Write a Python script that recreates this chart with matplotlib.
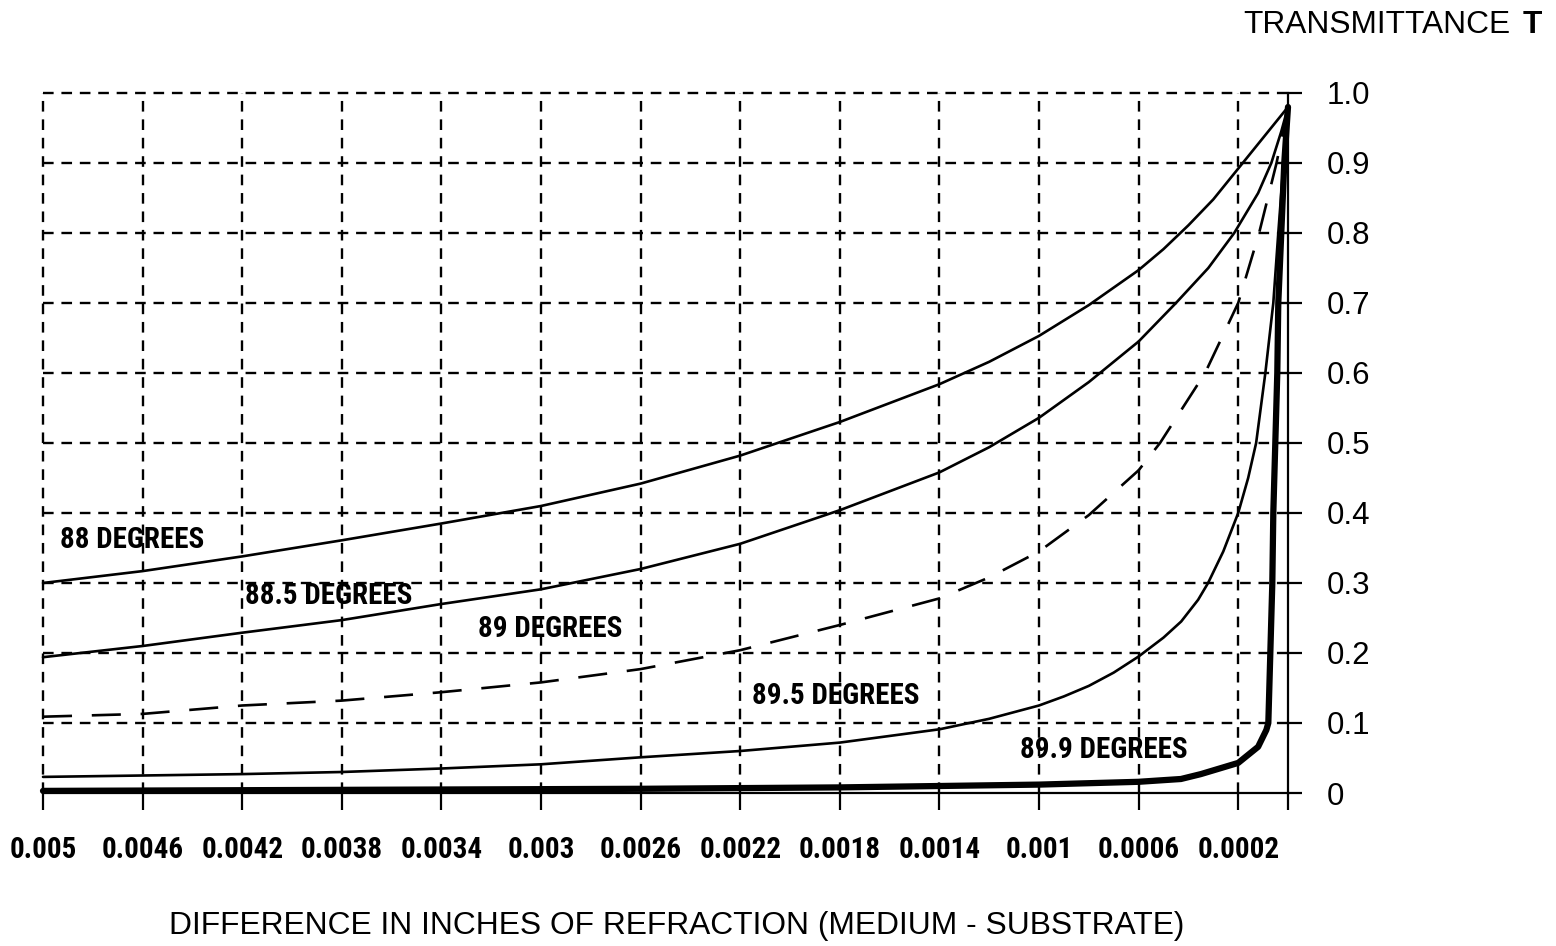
import matplotlib
matplotlib.use("Agg")
import matplotlib.pyplot as plt
from matplotlib import font_manager

# ---- data -------------------------------------------------------------
# difference in refraction (inches) and transmittance for each angle
x_88 = [0.005, 0.0046, 0.0042, 0.0038, 0.0034, 0.003, 0.0026, 0.0022, 0.0018,
        0.0014, 0.0012, 0.001, 0.0008, 0.0006, 0.0005, 0.0004, 0.0003, 0.0002,
        0.0001, 0.0]
t_88 = [0.300, 0.317, 0.338, 0.361, 0.385, 0.410, 0.442, 0.482, 0.530,
        0.584, 0.616, 0.653, 0.697, 0.747, 0.777, 0.811, 0.848, 0.892,
        0.936, 0.980]

x_885 = [0.005, 0.0046, 0.0042, 0.0038, 0.0034, 0.003, 0.0026, 0.0022, 0.0018,
         0.0014, 0.0012, 0.001, 0.0008, 0.0006, 0.00045, 0.00032, 0.000216,
         0.00012, 0.000067, 0.000027, 0.0]
t_885 = [0.194, 0.210, 0.229, 0.247, 0.270, 0.291, 0.320, 0.356, 0.404,
         0.458, 0.494, 0.536, 0.587, 0.645, 0.700, 0.750, 0.800,
         0.857, 0.900, 0.945, 0.980]

x_89 = [0.005, 0.0046, 0.0042, 0.0038, 0.0034, 0.003, 0.0026, 0.0022, 0.0018,
        0.0014, 0.0012, 0.001, 0.0008, 0.0006, 0.000514, 0.000333, 0.0002,
        0.000116, 0.000046, 0.0]
t_89 = [0.109, 0.113, 0.125, 0.132, 0.144, 0.158, 0.177, 0.204, 0.240,
        0.278, 0.308, 0.345, 0.397, 0.461, 0.500, 0.600, 0.700,
        0.800, 0.900, 0.980]

x_895 = [0.005, 0.0046, 0.0042, 0.0038, 0.0034, 0.003, 0.0026, 0.0022, 0.0018,
         0.0014, 0.0012, 0.001, 0.0009, 0.0008, 0.0007, 0.0006, 0.0005,
         0.000429, 0.000361, 0.000321, 0.00026, 0.0002, 0.00016, 0.000128,
         0.000091, 0.000059, 0.000039, 0.000018, 0.0]
t_895 = [0.023, 0.025, 0.027, 0.030, 0.035, 0.041, 0.051, 0.060, 0.072,
         0.091, 0.106, 0.125, 0.138, 0.153, 0.172, 0.195, 0.222,
         0.245, 0.276, 0.300, 0.345, 0.400, 0.450, 0.500,
         0.600, 0.700, 0.800, 0.900, 0.980]

x_899 = [0.005, 0.0042, 0.0034, 0.0026, 0.0018, 0.0014, 0.001, 0.0006, 0.00043,
         0.00035, 0.0002, 0.00012, 0.000087, 0.000079, 0.000071, 0.000063,
         0.000059, 0.000051, 0.000043, 0.000039, 0.000027, 0.000015, 0.0]
t_899 = [0.003, 0.004, 0.005, 0.006, 0.008, 0.010, 0.012, 0.016, 0.020,
         0.027, 0.043, 0.066, 0.090, 0.100, 0.200, 0.300,
         0.400, 0.500, 0.600, 0.700, 0.800, 0.900, 0.980]

x_ticks = [0.005, 0.0046, 0.0042, 0.0038, 0.0034, 0.003, 0.0026, 0.0022,
           0.0018, 0.0014, 0.001, 0.0006, 0.0002, 0.0]
x_tick_labels = ["0.005", "0.0046", "0.0042", "0.0038", "0.0034", "0.003",
                 "0.0026", "0.0022", "0.0018", "0.0014", "0.001", "0.0006",
                 "0.0002", ""]
y_ticks = [0.0, 0.1, 0.2, 0.3, 0.4, 0.5, 0.6, 0.7, 0.8, 0.9, 1.0]
y_tick_labels = ["0", "0.1", "0.2", "0.3", "0.4", "0.5", "0.6", "0.7",
                 "0.8", "0.9", "1.0"]

curve_labels = ["88 DEGREES", "88.5 DEGREES", "89 DEGREES",
                "89.5 DEGREES", "89.9 DEGREES"]

# ---- fonts ------------------------------------------------------------
regular = ["Liberation Sans", "DejaVu Sans"]
installed = {f.name for f in font_manager.fontManager.ttflist}
narrow_name = None
for cand in ["Liberation Sans Narrow", "Roboto Condensed", "Arial Narrow",
             "Open Sans Condensed", "DejaVu Sans Condensed", "Noto Sans Condensed"]:
    if cand in installed:
        narrow_name = cand
        break
if narrow_name is None:
    narrow = regular
    narrow_scale = 0.82     # shrink a normal-width face to the same widths
else:
    narrow = [narrow_name] + regular
    narrow_scale = 1.0

# ---- figure -----------------------------------------------------------
W, H = 1556, 946
fig = plt.figure(figsize=(W / 100, H / 100), dpi=100)
ax = fig.add_axes([43 / W, 153 / H, 1245 / W, 700 / H])
ax.set_xlim(0.005, 0.0)
ax.set_ylim(0.0, 1.0)

for side in ("left", "top"):
    ax.spines[side].set_visible(False)
for side in ("bottom", "right"):
    ax.spines[side].set_linewidth(1.6)
    ax.spines[side].set_color("black")

# dashed grid
grid_style = dict(color="black", lw=1.7, linestyle=(0, (4.5, 3.3)),
                  clip_on=False, zorder=1)
for gx in x_ticks[:-1]:
    ax.plot([gx, gx], [0.0, 1.0], **grid_style)
for gy in y_ticks[1:]:
    ax.plot([0.005, 0.0], [gy, gy], **grid_style)

# curves
line_kw = dict(color="black", clip_on=False, zorder=3,
               solid_capstyle="round", solid_joinstyle="round")
ax.plot(x_88, t_88, lw=1.9, **line_kw)
ax.plot(x_885, t_885, lw=1.9, **line_kw)
ax.plot(x_89, t_89, lw=1.9, linestyle=(0, (11, 7.5)), **line_kw)
ax.plot(x_895, t_895, lw=1.9, **line_kw)
ax.plot(x_899, t_899, lw=4.5, **line_kw)

# curve labels
label_pos = [(0.00493, 0.362), (0.00419, 0.281), (0.003253, 0.234),
             (0.002153, 0.138), (0.001076, 0.061)]
for txt, (lx, ly) in zip(curve_labels, label_pos):
    ax.text(lx, ly, txt, ha="left", va="center",
            fontsize=20 * narrow_scale if narrow_name is None else 21,
            fontweight="bold", family=narrow, zorder=4)

# ticks
ax.set_xticks(x_ticks)
ax.set_xticklabels(x_tick_labels, family=narrow, fontweight="bold",
                   fontsize=21 * (0.89 if narrow_name is None else 1.0))
ax.tick_params(axis="x", direction="out", length=12, width=1.6,
               pad=19, colors="black")
ax.yaxis.tick_right()
ax.set_yticks(y_ticks)
ax.set_yticklabels(y_tick_labels, family=regular, fontsize=22.5)
ax.tick_params(axis="y", direction="out", length=10, width=1.6,
               pad=18, colors="black")

# axis titles
fig.text(677 / W, 1 - 926 / H,
         "DIFFERENCE IN INCHES OF REFRACTION (MEDIUM - SUBSTRATE)",
         ha="center", va="center", fontsize=22.9, family=regular)
fig.text(1510 / W, 1 - 25 / H, "TRANSMITTANCE", ha="right", va="center",
         fontsize=22.8, family=regular)
fig.text(1542 / W, 1 - 25 / H, "T", ha="right", va="center",
         fontsize=22.8, family=regular, fontweight="bold")

fig.savefig("out.png", dpi=100, facecolor="white")
